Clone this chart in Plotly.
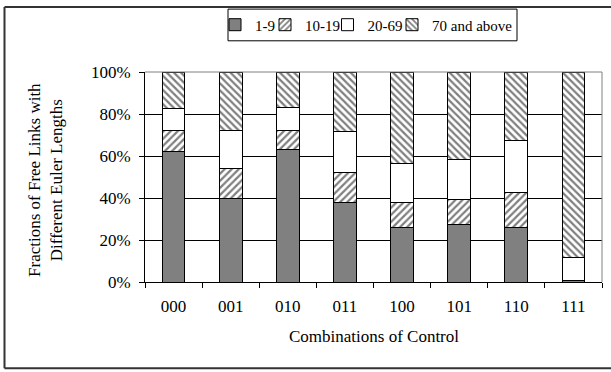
import plotly.graph_objects as go

categories = ["000", "001", "010", "011", "100", "101", "110", "111"]
series_names = ["1-9", "10-19", "20-69", "70 and above"]
v_1_9 = [62, 40, 63, 38, 26, 27.5, 26, 0.5]
v_10_19 = [10, 14, 9, 14, 12, 12, 16.5, 0.3]
v_20_69 = [10.5, 18, 11, 19.5, 18.5, 19, 25, 11]
v_70_up = [17.5, 28, 17, 28.5, 43.5, 41.5, 32.5, 88.2]
y_ticks = [0, 20, 40, 60, 80, 100]
y_ticktext = [f"{v}%" for v in y_ticks]

FONT = "Liberation Serif, Times New Roman, serif"
FS = 17
W, H = 611, 372
L, R, T, B = 145, 9, 70, 90
PW, PH = W - L - R, H - T - B


def px_x(x):
    return (x - L) / PW


def px_y(y):
    return (H - B - y) / PH


styles = [
    dict(color="#808080"),
    dict(color="white", pattern=dict(shape="/", fgcolor="black", bgcolor="white", size=5, solidity=0.45)),
    dict(color="white"),
    dict(color="white", pattern=dict(shape="\\", fgcolor="black", bgcolor="white", size=5, solidity=0.45)),
]
values = [v_1_9, v_10_19, v_20_69, v_70_up]
legend_ids = ["legend", "legend2", "legend3", "legend4"]
sym_centers = [236, 286, 348.5, 413]

fig = go.Figure()
for name, vals, st, lid in zip(series_names, values, styles, legend_ids):
    marker = dict(st)
    marker["line"] = dict(color="black", width=1)
    fig.add_trace(go.Bar(x=categories, y=vals, name=name, marker=marker, legend=lid))

layout_legends = {}
for lid, cx in zip(legend_ids, sym_centers):
    layout_legends[lid] = dict(
        x=px_x(cx - 21), xanchor="left", y=px_y(22.5), yanchor="middle",
        orientation="h", bgcolor="rgba(0,0,0,0)", borderwidth=0,
        font=dict(family=FONT, size=15, color="black"), itemclick=False,
    )

fig.update_layout(
    width=W, height=H,
    margin=dict(l=L, r=R, t=T, b=B, pad=0),
    paper_bgcolor="white", plot_bgcolor="white",
    barmode="stack", bargap=0.6,
    font=dict(family=FONT, size=FS, color="black"),
    showlegend=True,
    xaxis=dict(
        type="category", showline=True, linecolor="black", linewidth=1,
        ticks="outside", ticklen=5, tickcolor="black", tickson="boundaries",
        showgrid=False, ticklabelstandoff=9,
        tickfont=dict(family=FONT, size=FS, color="black"),
    ),
    yaxis=dict(
        range=[0, 100], tickmode="array", tickvals=y_ticks, ticktext=y_ticktext,
        showline=True, linecolor="black", linewidth=1,
        ticks="outside", ticklen=5, tickcolor="black",
        showgrid=True, gridcolor="black", gridwidth=1, zeroline=False,
        ticklabelstandoff=5,
        tickfont=dict(family=FONT, size=FS, color="black"),
    ),
    **layout_legends,
)

# plot-area border (top and right, gray)
fig.add_shape(type="line", xref="paper", yref="paper", x0=0, x1=1, y0=1, y1=1,
              line=dict(color="#808080", width=1))
fig.add_shape(type="line", xref="paper", yref="paper", x0=1, x1=1, y0=0, y1=1,
              line=dict(color="#808080", width=1))
# legend box
fig.add_shape(type="rect", xref="paper", yref="paper",
              x0=px_x(228), x1=px_x(517), y0=px_y(38.5), y1=px_y(6.5),
              line=dict(color="black", width=1), fillcolor="rgba(0,0,0,0)")
# outer chart border (left, top, bottom; right side runs off the page)
border = dict(color="#333333", width=2)
bx0, bx1, by0, by1 = px_x(4.5), px_x(611), px_y(369), px_y(4.5)
fig.add_shape(type="line", xref="paper", yref="paper", x0=bx0, x1=bx0, y0=by0, y1=by1, line=border)
fig.add_shape(type="line", xref="paper", yref="paper", x0=bx0, x1=bx1, y0=by1, y1=by1, line=border)
fig.add_shape(type="line", xref="paper", yref="paper", x0=bx0, x1=bx1, y0=by0, y1=by0, line=border)

fig.add_annotation(text="Fractions of Free Links with<br>Different Euler Lengths",
                   xref="paper", yref="paper", x=px_x(46), y=px_y(179),
                   xanchor="center", yanchor="middle", textangle=-90, showarrow=False,
                   font=dict(family=FONT, size=FS, color="black"))
fig.add_annotation(text="Combinations of Control",
                   xref="paper", yref="paper", x=px_x(373.5), y=px_y(337),
                   xanchor="center", yanchor="middle", showarrow=False,
                   font=dict(family=FONT, size=FS, color="black"))

fig.write_html("out.html")
